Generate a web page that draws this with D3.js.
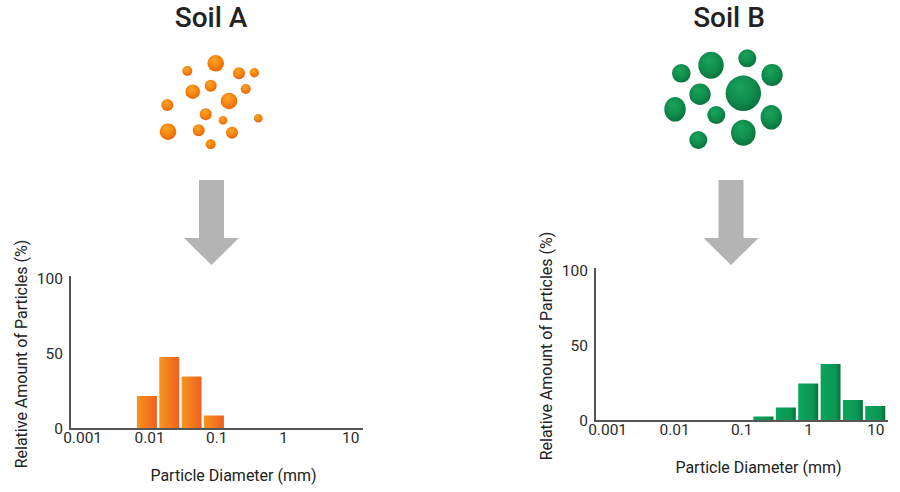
<!DOCTYPE html>
<html lang="en">
	<head>
		<title>Soil particle size</title>
		<meta charset="UTF-8">
		<script src="https://d3js.org/d3.v7.js"></script>
		<style>
			body { margin: 0; background: white; }
			text { font-family: Roboto, "Noto Sans", sans-serif; fill: #222; }
			.tick text { fill: #2a2a2a; font-size: 15.5px; }
			.domain { display: none; }
		</style>
	</head>
	<body>
		<svg id="chart" width="900" height="492"></svg>
		<script>

			// ---- data ----
			// bin edges in mm (each bar sits between two edges)
			var binEdgesA = [0.0063, 0.0136, 0.0293, 0.063, 0.136];
			var amountsA = [22, 48, 35, 9];

			var binEdgesB = [0.146, 0.316, 0.681, 1.47, 3.16, 6.81, 14.7];
			var amountsB = [3, 9, 25, 38, 14, 10];

			var xTicks = [0.001, 0.01, 0.1, 1, 10];
			var xTickLabels = ["0.001", "0.01", "0.1", "1", "10"];
			var yTicks = [0, 50, 100];

			var titles = ["Soil A", "Soil B"];
			var xTitle = "Particle Diameter (mm)";
			var yTitle = "Relative Amount of Particles (%)";

			// particle drawings (illustration units)
			var particleXA = [55.7, 27.3, 79, 94.3, 32.7, 50.7, 85.7, 69, 7.3, 45.7, 63, 98.3, 8, 38.7, 72, 50.7];
			var particleYA = [8.3, 16, 18.3, 17.7, 36.7, 30.7, 34, 46, 50, 59.3, 65.3, 63.3, 76.7, 75.3, 77.7, 89.3];
			var particleRA = [8.3, 5, 6, 4.7, 7.3, 6, 5, 8.3, 6, 6, 4.3, 4.3, 8.3, 6, 6, 5];

			var particleXB = [21.3, 51, 87.3, 112, 40, 83.3, 15, 56.3, 111.3, 38.3, 83.3];
			var particleYB = [28.3, 20.3, 13.3, 30, 49.3, 48.3, 64.3, 70, 72.3, 95, 87.7];
			var particleRXB = [9.3, 12.7, 9, 10.7, 10.7, 17.7, 10.7, 9, 10.7, 9, 12.3];
			var particleRYB = [9.3, 13.5, 9, 11, 10.7, 17.7, 12.3, 9, 12.3, 9, 13];

			var svg = d3.select("#chart");
			var defs = svg.append("defs");

			// gradients for bars and particles
			function linGrad(id, stops)
			{
				var g = defs.append("linearGradient").attr("id", id)
					.attr("x1", "0%").attr("x2", "100%").attr("y1", "0%").attr("y2", "0%");
				stops.forEach(function(s) {
					g.append("stop").attr("offset", s[0]).attr("stop-color", s[1]);
				});
			}
			function radGrad(id, stops)
			{
				var g = defs.append("radialGradient").attr("id", id)
					.attr("cx", "45%").attr("cy", "40%").attr("r", "60%")
					.attr("fx", "40%").attr("fy", "30%");
				stops.forEach(function(s) {
					g.append("stop").attr("offset", s[0]).attr("stop-color", s[1]);
				});
			}
			linGrad("barOrange", [["0%", "#f7951d"], ["100%", "#f05f22"]]);
			linGrad("barGreen", [["0%", "#0ba55c"], ["75%", "#0a9651"], ["100%", "#06703a"]]);
			radGrad("dotOrange", [["0%", "#fba52a"], ["55%", "#f5880f"], ["100%", "#e8670b"]]);
			radGrad("dotGreen", [["0%", "#1aa45c"], ["60%", "#108e4d"], ["100%", "#0a733d"]]);

			// draws one histogram panel
			function drawPanel(opts)
			{
				var g = svg.append("g");

				var x = d3.scaleLog().domain([0.00066, 15.5]).range([opts.left, opts.left + 293]);
				var y = d3.scaleLinear().domain([0, 100]).range([opts.base, opts.base - 150]);

				var bins = opts.amounts.map(function(v, i) {
					return { lo: opts.edges[i], hi: opts.edges[i + 1], v: v };
				});

				g.selectAll("rect.bar")
				 .data(bins)
				 .join("rect")
				 .attr("class", "bar")
				 .attr("x", function(d) { return x(d.lo) + 1.2; })
				 .attr("width", function(d) { return x(d.hi) - x(d.lo) - 2.4; })
				 .attr("y", function(d) { return y(d.v); })
				 .attr("height", function(d) { return y(0) - y(d.v); })
				 .attr("fill", opts.fill);

				// axis lines
				g.append("line")
				 .attr("x1", x.range()[0]).attr("x2", x.range()[0])
				 .attr("y1", y(102)).attr("y2", y(0))
				 .attr("stroke", "#555").attr("stroke-width", 2);
				g.append("line")
				 .attr("x1", x.range()[0] - 1).attr("x2", x.range()[1])
				 .attr("y1", y(0)).attr("y2", y(0))
				 .attr("stroke", "#555").attr("stroke-width", 2);

				g.append("g")
				 .attr("transform", "translate(0," + y(0) + ")")
				 .call(d3.axisBottom(x).tickValues(xTicks).tickSize(0).tickPadding(3)
				 	.tickFormat(function(d, i) { return xTickLabels[i]; }));

				g.append("g")
				 .attr("transform", "translate(" + x.range()[0] + ",0)")
				 .call(d3.axisLeft(y).tickValues(yTicks).tickSize(0).tickPadding(7));

				g.append("text")
				 .attr("x", (x.range()[0] + x.range()[1]) / 2 + 17)
				 .attr("y", y(0) + 52)
				 .attr("text-anchor", "middle")
				 .style("font-size", "16px")
				 .text(xTitle);

				g.append("text")
				 .attr("transform", "translate(" + (x.range()[0] - 49) + "," + ((y(0) + y(100)) / 2) + ") rotate(-90)")
				 .attr("text-anchor", "middle")
				 .attr("dy", "0.35em")
				 .style("font-size", "16px")
				 .text(yTitle);

				// title
				svg.append("text")
				 .attr("x", opts.titleX).attr("y", 27)
				 .attr("text-anchor", "middle")
				 .style("font-size", "28px")
				 .style("font-weight", 500)
				 .text(opts.title);

				// big gray arrow
				var ax = opts.arrowX;
				var arrow = d3.path();
				arrow.moveTo(ax - 12.5, 180);
				arrow.lineTo(ax + 12.5, 180);
				arrow.lineTo(ax + 12.5, 238);
				arrow.lineTo(ax + 27.5, 238);
				arrow.lineTo(ax, 265);
				arrow.lineTo(ax - 27.5, 238);
				arrow.lineTo(ax - 12.5, 238);
				arrow.closePath();
				svg.append("path").attr("d", arrow.toString()).attr("fill", "#b4b4b4");
			}

			drawPanel({ left: 70, base: 429, edges: binEdgesA, amounts: amountsA,
						fill: "url(#barOrange)", title: titles[0], titleX: 211, arrowX: 211.5 });
			drawPanel({ left: 595, base: 421, edges: binEdgesB, amounts: amountsB,
						fill: "url(#barGreen)", title: titles[1], titleX: 729, arrowX: 731 });

			// particle clusters
			var pxA = d3.scaleLinear().domain([0, 100]).range([160, 260]);
			var pyA = d3.scaleLinear().domain([0, 100]).range([55, 155]);
			svg.append("g").selectAll("circle")
			 .data(particleXA)
			 .join("circle")
			 .attr("cx", function(d) { return pxA(d); })
			 .attr("cy", function(d, i) { return pyA(particleYA[i]); })
			 .attr("r", function(d, i) { return particleRA[i]; })
			 .attr("fill", "url(#dotOrange)");

			var pxB = d3.scaleLinear().domain([0, 100]).range([660, 760]);
			var pyB = d3.scaleLinear().domain([0, 100]).range([45, 145]);
			svg.append("g").selectAll("ellipse")
			 .data(particleXB)
			 .join("ellipse")
			 .attr("cx", function(d) { return pxB(d); })
			 .attr("cy", function(d, i) { return pyB(particleYB[i]); })
			 .attr("rx", function(d, i) { return particleRXB[i]; })
			 .attr("ry", function(d, i) { return particleRYB[i]; })
			 .attr("fill", "url(#dotGreen)");

		</script>
	</body>
</html>
